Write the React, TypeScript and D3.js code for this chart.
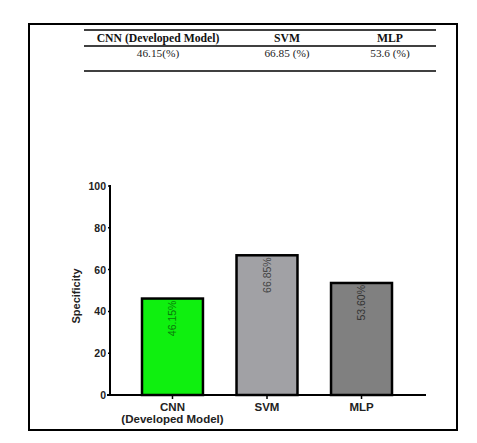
import React from "react";
import * as d3 from "d3";

const categories = ["CNN (Developed Model)", "SVM", "MLP"];
const axisLabels = [["CNN", "(Developed Model)"], ["SVM"], ["MLP"]];
const values = [46.15, 66.85, 53.6];
const barLabels = ["46.15%", "66.85%", "53.60%"];
const tableValues = ["46.15(%)", "66.85 (%)", "53.6 (%)"];
const yTicks = [0, 20, 40, 60, 80, 100];
const barColors = ["#0ff00f", "#a1a1a5", "#808080"];
const labelColors = ["#0a7a0a", "#444", "#333"];

export default function App() {
  const W = 477, H = 443;
  const x0 = 110, x1 = 426, yTop = 186, yBot = 395;
  const x = d3.scaleBand().domain(categories).range([142, 392]).paddingInner(0.355).paddingOuter(0);
  const y = d3.scaleLinear().domain([0, 100]).range([yBot, yTop]);
  const tableX = [158, 287, 390];
  const sans = "Arial, 'Liberation Sans', sans-serif";
  const serif = "'Times New Roman', 'Liberation Serif', serif";
  return (
    <svg width={W} height={H} style={{ position: "absolute", left: 0, top: 0, background: "#fff" }}>
      <rect x={29} y={24} width={428} height={406} fill="none" stroke="#000" strokeWidth={2} />
      {/* table */}
      <line x1={84} x2={436} y1={30} y2={30} stroke="#000" strokeWidth={1.5} />
      <line x1={84} x2={436} y1={46} y2={46} stroke="#000" strokeWidth={1.5} />
      <line x1={84} x2={436} y1={71} y2={71} stroke="#000" strokeWidth={1.5} />
      {categories.map((c, i) => (
        <text key={c} x={tableX[i]} y={41.5} textAnchor="middle" fontFamily={serif} fontWeight="bold" fontSize={11.7} fill="#111">{c}</text>
      ))}
      {tableValues.map((v, i) => (
        <text key={v} x={tableX[i]} y={56.5} textAnchor="middle" fontFamily={serif} fontSize={11.3} fill="#222">{v}</text>
      ))}
      {/* bars */}
      {categories.map((c, i) => {
        const bx = x(c)!;
        const bw = x.bandwidth();
        const top = y(values[i]);
        return (
          <g key={c}>
            <rect x={bx} y={top} width={bw} height={yBot - top} fill={barColors[i]} stroke="#000" strokeWidth={2.5} />
            <text transform={`translate(${bx + bw / 2 + 3.5},${top + 2}) rotate(-90)`} textAnchor="end" fontFamily={sans} fontSize={10.5} fill={labelColors[i]}>{barLabels[i]}</text>
          </g>
        );
      })}
      {/* axes */}
      <line x1={x0} x2={x0} y1={yTop - 1} y2={yBot} stroke="#000" strokeWidth={2} />
      <line x1={x0 - 3} x2={x1} y1={yBot} y2={yBot} stroke="#000" strokeWidth={2} />
      {yTicks.map((t) => (
        <g key={t}>
          <line x1={x0 - 2} x2={x0} y1={y(t)} y2={y(t)} stroke="#000" strokeWidth={1.5} />
          <text x={x0 - 4} y={y(t) + 4} textAnchor="end" fontFamily={sans} fontWeight="bold" fontSize={10.5} fill="#222">{t}</text>
        </g>
      ))}
      {categories.map((c, i) => {
        const cx = x(c)! + x.bandwidth() / 2;
        return (
          <g key={c}>
            <line x1={cx} x2={cx} y1={yBot} y2={yBot + 4} stroke="#000" strokeWidth={1.5} />
            {axisLabels[i].map((l, j) => (
              <text key={l} x={cx} y={411 + j * 11.5} textAnchor="middle" fontFamily={sans} fontWeight="bold" fontSize={11.5} fill="#222">{l}</text>
            ))}
          </g>
        );
      })}
      <text transform={`translate(80,296) rotate(-90)`} textAnchor="middle" fontFamily={sans} fontWeight="bold" fontSize={11} fill="#222">Specificity</text>
    </svg>
  );
}
